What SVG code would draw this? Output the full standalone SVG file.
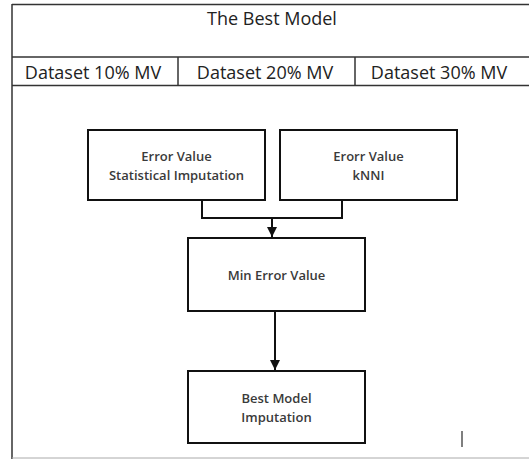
<svg xmlns="http://www.w3.org/2000/svg" width="529" height="459" viewBox="0 0 529 459">
<style>
.frame{fill:none;stroke:#333;stroke-width:1.5}
.box{fill:#fff;stroke:#111;stroke-width:2}
.hdr{font-family:"Open Sans","DejaVu Sans",sans-serif;font-size:18px;fill:#222;text-anchor:middle}
.lbl{font-family:"Open Sans","DejaVu Sans",sans-serif;font-size:13px;fill:#3a3a3a;text-anchor:middle;font-weight:600}
.conn{fill:none;stroke:#111;stroke-width:2}
</style>
<defs>
<marker id="ah" viewBox="0 0 10 10" refX="10" refY="5" markerWidth="5" markerHeight="5" orient="auto" markerUnits="strokeWidth">
<path d="M0,0 L10,5 L0,10 z" fill="#111"/>
</marker>
</defs>
<rect width="529" height="459" fill="#fff"/>
<g id="frame">
<line x1="12" y1="4.5" x2="529" y2="4.5" class="frame"/>
<line x1="12" y1="4" x2="12" y2="459" class="frame" stroke-width="2"/>
<line x1="12" y1="57" x2="529" y2="57" class="frame"/>
<line x1="12" y1="85.5" x2="529" y2="85.5" class="frame"/>
<line x1="178" y1="57" x2="178" y2="85.5" class="frame"/>
<line x1="355" y1="57" x2="355" y2="85.5" class="frame"/>
<line x1="12" y1="458" x2="529" y2="458" stroke="#aaa" stroke-width="1"/>
<line x1="462" y1="431" x2="462" y2="447" stroke="#555" stroke-width="1.5"/>
</g>
<g id="title"><text x="272" y="25" class="hdr">The Best Model</text></g>
<g id="ds10"><text x="93" y="79" class="hdr">Dataset 10% MV</text></g>
<g id="ds20"><text x="265" y="79" class="hdr">Dataset 20% MV</text></g>
<g id="ds30"><text x="439" y="79" class="hdr">Dataset 30% MV</text></g>
<g id="n1">
<rect x="88" y="130" width="177" height="70" class="box"/>
<text x="176.5" y="161" class="lbl">Error Value</text>
<text x="176.5" y="180" class="lbl">Statistical Imputation</text>
</g>
<g id="n2">
<rect x="280" y="130" width="177" height="70" class="box"/>
<text x="368.5" y="161" class="lbl">Erorr Value</text>
<text x="368.5" y="180" class="lbl">kNNI</text>
</g>
<g id="n3">
<rect x="188" y="238" width="177" height="73" class="box"/>
<text x="276.5" y="280" class="lbl">Min Error Value</text>
</g>
<g id="n4">
<rect x="188" y="371" width="177" height="72" class="box"/>
<text x="276.5" y="403" class="lbl">Best Model</text>
<text x="276.5" y="422" class="lbl">Imputation</text>
</g>
<g id="connectors">
<polyline points="202,200 202,218 342,218 342,200" class="conn"/>
<line x1="272" y1="218" x2="272" y2="237" class="conn" marker-end="url(#ah)"/>
<line x1="275" y1="311" x2="275" y2="370" class="conn" stroke-width="1.5" marker-end="url(#ah)"/>
</g>
</svg>
